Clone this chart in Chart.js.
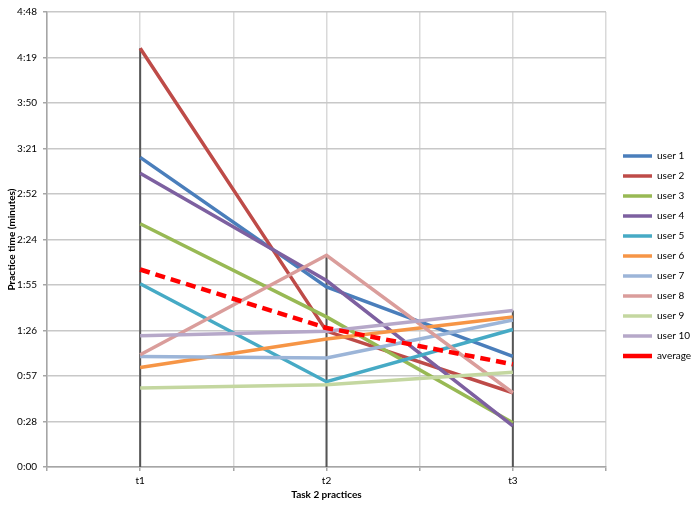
<!DOCTYPE html>
<html>
<head>
<meta charset="utf-8">
<script src="https://cdn.jsdelivr.net/npm/chart.js@4/dist/chart.umd.min.js"></script>
<style>
  html, body { margin: 0; padding: 0; background: #fff; }
  #wrap { width: 691px; height: 506px; }
</style>
</head>
<body>
<div id="wrap"><canvas id="practiceChart"></canvas></div>
<script>
// practice times in seconds
var categories = ['t1', 't2', 't3'];
var user1 = [196, 114, 70];
var user2 = [265, 86, 47];
var user3 = [154, 95, 28];
var user4 = [186, 118, 26];
var user5 = [116, 54, 87];
var user6 = [63, 81, 95];
var user7 = [70, 69, 93];
var user8 = [71, 134, 47];
var user9 = [50, 52, 60];
var user10 = [83, 86, 99];
var average = [125, 88, 65];
var yTicks = ['0:00', '0:28', '0:57', '1:26', '1:55', '2:24', '2:52', '3:21', '3:50', '4:19', '4:48'];

var series = [
    { label: 'user 1', data: user1, color: '#4A7EBB' },
    { label: 'user 2', data: user2, color: '#BE4B48' },
    { label: 'user 3', data: user3, color: '#98B954' },
    { label: 'user 4', data: user4, color: '#7D60A0' },
    { label: 'user 5', data: user5, color: '#46AAC5' },
    { label: 'user 6', data: user6, color: '#F69546' },
    { label: 'user 7', data: user7, color: '#9CB5D8' },
    { label: 'user 8', data: user8, color: '#DA9D9B' },
    { label: 'user 9', data: user9, color: '#C4D7A0' },
    { label: 'user 10', data: user10, color: '#B6A8C9' },
    { label: 'average', data: average, color: '#FF0000', dash: [10, 6], width: 4.5 }
];

var datasets = series.map(function (s, i) {
    return {
        label: s.label,
        data: s.data.map(function (v, j) { return { x: j + 1, y: v }; }),
        borderColor: s.color,
        backgroundColor: s.color,
        borderWidth: s.width || 3.5,
        borderDash: s.dash || [],
        pointRadius: 0,
        tension: 0,
        order: series.length - i
    };
});

// Excel-style drop lines from the highest point down to the axis
var dropLines = {
    id: 'dropLines',
    beforeDatasetsDraw: function (chart) {
        var ctx = chart.ctx;
        var xs = chart.scales.x, ys = chart.scales.y;
        ctx.save();
        ctx.strokeStyle = '#555555';
        ctx.lineWidth = 2;
        categories.forEach(function (c, j) {
            var top = Math.max.apply(null, series.map(function (s) { return s.data[j]; }));
            var px = xs.getPixelForValue(j + 1);
            ctx.beginPath();
            ctx.moveTo(px, ys.getPixelForValue(top));
            ctx.lineTo(px, ys.getPixelForValue(0));
            ctx.stroke();
        });
        ctx.restore();
    }
};

// nudge the legend a little further from the plot, like Excel does
var legendNudge = {
    id: 'legendNudge',
    afterLayout: function (chart) {
        var lg = chart.legend;
        if (!lg) return;
        lg.left += 7;
        lg.right += 7;
        lg.top += 5;
    }
};

Chart.defaults.font.family = 'Lato, "Liberation Sans", sans-serif';
Chart.defaults.color = '#000';

var ctx = document.getElementById('practiceChart').getContext('2d');
var practiceChart = new Chart(ctx, {
    type: 'line',
    data: { datasets: datasets },
    plugins: [dropLines, legendNudge],
    options: {
        responsive: true,
        maintainAspectRatio: false,
        animation: false,
        layout: { padding: { top: 1, left: 6, right: 0, bottom: 0 } },
        plugins: {
            tooltip: { enabled: false },
            legend: {
                position: 'right',
                maxWidth: 85,
                labels: {
                    usePointStyle: true,
                    pointStyle: 'line',
                    pointStyleWidth: 29,
                    boxHeight: 10,
                    padding: 10,
                    font: { size: 10 },
                    sort: function (a, b) { return a.datasetIndex - b.datasetIndex; }
                }
            }
        },
        scales: {
            x: {
                type: 'linear',
                min: 0.5,
                max: 3.5,
                afterFit: function (scale) { scale.height = 39; },
                ticks: {
                    stepSize: 0.5,
                    font: { size: 10 },
                    padding: 4,
                    callback: function (v) {
                        return Number.isInteger(v) ? categories[v - 1] : '';
                    }
                },
                grid: { color: '#D9D9D9', lineWidth: 1.5, tickLength: 4, tickColor: '#A6A6A6' },
                border: { color: '#A6A6A6', width: 1.5 },
                title: { display: true, text: 'Task 2 practices', font: { size: 10, weight: 'bold' }, padding: { top: 4, bottom: 5 } }
            },
            y: {
                min: 0,
                max: 288,
                afterFit: function (scale) { scale.width = 41; },
                ticks: {
                    stepSize: 28.8,
                    font: { size: 10 },
                    padding: 6,
                    callback: function (v) {
                        return yTicks[Math.round(v / 28.8)];
                    }
                },
                grid: { color: '#C8C8C8', lineWidth: 1.5, tickLength: 4, tickColor: '#A6A6A6' },
                border: { color: '#A6A6A6', width: 1.5 },
                title: { display: true, text: 'Practice time (minutes)', font: { size: 10, weight: 'bold' }, padding: { top: 0, bottom: 4 } }
            }
        }
    }
});
</script>
</body>
</html>
